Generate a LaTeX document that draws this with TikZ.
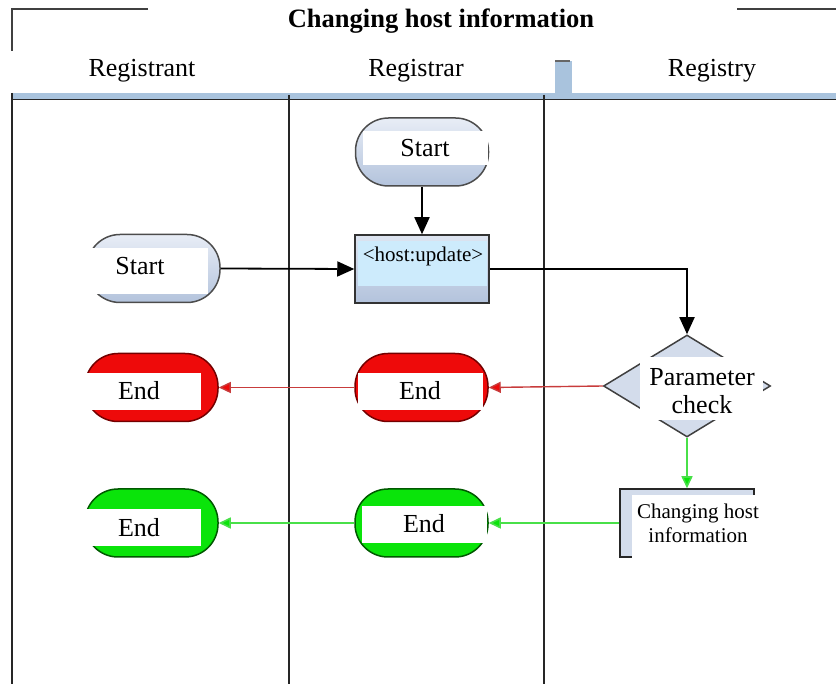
\documentclass[tikz,border=0pt]{standalone}
\usepackage{fontspec}
\setmainfont{Liberation Serif}
\usetikzlibrary{shapes.geometric,arrows.meta}
\definecolor{barblue}{HTML}{A9C3DD}
\definecolor{termtop}{HTML}{E8EDF6}
\definecolor{termbot}{HTML}{B3C3DC}
\definecolor{innerblue}{HTML}{CDEBFC}
\definecolor{diafill}{HTML}{D3DCEB}
\definecolor{redfill}{HTML}{EE0A0A}
\definecolor{redline}{HTML}{C83C3C}
\definecolor{greenfill}{HTML}{0AE40A}
\definecolor{greenline}{HTML}{48E048}
\begin{document}
\begin{tikzpicture}[x=1pt,y=-1pt,
  stadium/.style={rounded corners=33pt, minimum width=133pt, minimum height=68pt, inner sep=0pt, line width=1.5pt},
  bluestad/.style={stadium, draw=black!70, top color=termtop, bottom color=termbot},
  redstad/.style={stadium, draw=red!45!black, fill=redfill},
  greenstad/.style={stadium, draw=green!35!black, fill=greenfill},
  big/.style={font=\fontsize{26}{29}\selectfont, inner sep=0pt},
  small/.style={font=\fontsize{21}{25}\selectfont, inner sep=0pt, align=center},
  wbox/.style={fill=white},
  blk/.style={draw=black, line width=1.8pt, -{Triangle[length=17pt,width=15pt]}},
  redarr/.style={draw=redline, line width=1.4pt, -{Triangle[length=12pt,width=11pt,fill=redfill]}},
  grnarr/.style={draw=greenline, line width=1.6pt, -{Triangle[length=12pt,width=11pt,fill=greenfill]}},
  lane/.style={draw=black!85, line width=1.8pt}
]
\useasboundingbox (0,0) rectangle (836,684);
% frame bits at top
\draw[black!75, line width=1.6pt] (148,9) -- (12,9) -- (12,51);
\draw[black!75, line width=1.6pt] (737,9) -- (836,9);
\node[font=\bfseries\fontsize{26.5}{30}\selectfont, inner sep=0pt] (title) at (441,21) {Changing host information};
% header
\fill[barblue] (12,93) rectangle (836,99);
\fill[barblue] (555,61) rectangle (572,95);
\draw[black!60, line width=1.8pt] (555,61) -- (570,61);
\draw[black!85, line width=1.8pt] (12,99.5) -- (836,99.5);
\node[big] (h1) at (142,71) {Registrant};
\node[big] (h2) at (416,71) {Registrar};
\node[big] (h3) at (712,71) {Registry};
% lanes
\draw[lane] (12,93) -- (12,684);
\draw[lane] (289,95) -- (289,684);
\draw[lane] (544,95) -- (544,684);
% shapes
\node[bluestad] (s2) at (422,152) {};
\node[bluestad] (rs) at (153.5,268.5) {};
\node[draw=black!80, line width=1.5pt, top color=termtop!80!termbot, bottom color=termbot, minimum width=134pt, minimum height=68pt, inner sep=0pt] (hu) at (422,269) {};
\node[diamond, draw=black!75, line width=1.5pt, fill=diafill, aspect=1.64, minimum width=167pt, minimum height=102pt, inner sep=0pt] (pc) at (687,386) {};
\node[draw=black!85, line width=1.5pt, fill=diafill, minimum width=134pt, minimum height=68pt, inner sep=0pt] (ch) at (687,523) {};
\node[redstad] (e1r) at (151.5,387.5) {};
\node[redstad] (e2r) at (421.5,387.5) {};
\node[greenstad] (e1g) at (151.5,523) {};
\node[greenstad] (e2g) at (421.5,523) {};
% white label boxes
\fill[wbox] (363,131) rectangle (488,165);
\fill[innerblue] (358,241) rectangle (487,286);
\fill[wbox] (85,248) rectangle (208,294);
\fill[wbox] (640,357) rectangle (763,420);
\fill[wbox] (632,495) rectangle (762,558);
\fill[wbox] (80,373) rectangle (201,410);
\fill[wbox] (358,373) rectangle (483,410);
\fill[wbox] (80,509) rectangle (201,546);
\fill[wbox] (362,506) rectangle (487,543);
% texts
\node[big] (s2t) at (425,148) {Start};
\node[big] (rst) at (140,266) {Start};
\node[small] (hut) at (423,256) {<host:update>};
\node[big, align=center, font=\fontsize{26}{28}\selectfont] (pct) at (702,391) {Parameter\\check};
\node[small, font=\fontsize{21}{24}\selectfont] (cht) at (698,523) {Changing host\\information};
\node[big] (e1rt) at (139,391) {End};
\node[big] (e2rt) at (420,391) {End};
\node[big] (e1gt) at (139,528) {End};
\node[big] (e2gt) at (424,524) {End};
% connectors
\draw[blk] (rs.east) -- (hu.west);
\draw[blk] (s2.south) -- (hu.north);
\draw[blk] (hu.east) -| (pc.north);
\draw[redarr] (pc.west) -- (e2r.east);
\draw[redarr] (e2r.west) -- (e1r.east);
\draw[grnarr] (pc.south) -- (ch.north);
\draw[grnarr] (ch.west) -- (e2g.east);
\draw[grnarr] (e2g.west) -- (e1g.east);
\end{tikzpicture}
\end{document}
